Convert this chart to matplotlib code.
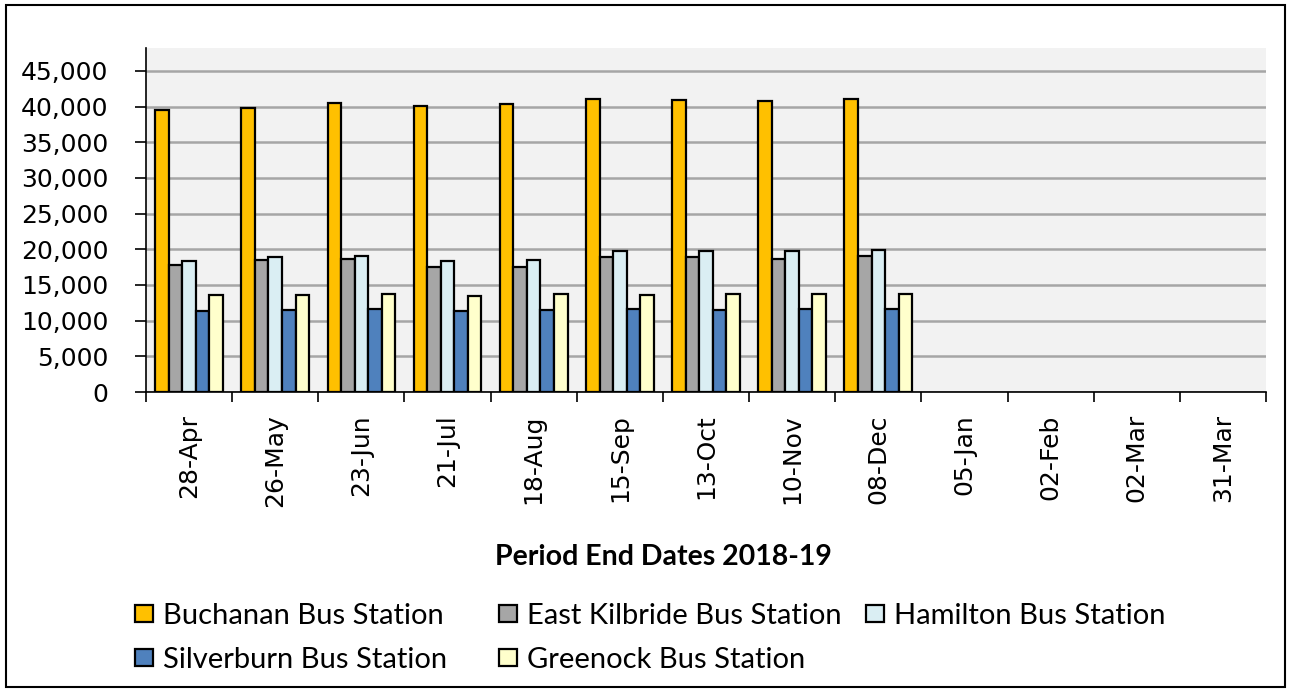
import numpy as np
import matplotlib
matplotlib.use("Agg")
import matplotlib.pyplot as plt
from matplotlib.patches import Rectangle

# Period end dates (4-weekly periods, 2018-19)
periods = ["28-Apr", "26-May", "23-Jun", "21-Jul", "18-Aug", "15-Sep", "13-Oct",
           "10-Nov", "08-Dec", "05-Jan", "02-Feb", "02-Mar", "31-Mar"]

# values; later periods not yet reported
buchanan = [39500, 39850, 40550, 40050, 40300, 41100, 40950, 40800, 41100]
east_kilbride = [17750, 18500, 18700, 17450, 17450, 18850, 18850, 18700, 19000]
hamilton = [18300, 18850, 19000, 18300, 18500, 19700, 19700, 19700, 19900]
silverburn = [11300, 11500, 11650, 11300, 11550, 11650, 11550, 11650, 11650]
greenock = [13600, 13600, 13800, 13450, 13750, 13600, 13750, 13750, 13750]

series = [
    ("Buchanan Bus Station", buchanan, "#FFC000"),
    ("East Kilbride Bus Station", east_kilbride, "#A6A6A6"),
    ("Hamilton Bus Station", hamilton, "#DAEEF3"),
    ("Silverburn Bus Station", silverburn, "#4F81BD"),
    ("Greenock Bus Station", greenock, "#FFFFCC"),
]

W, H = 1293, 690
fig = plt.figure(figsize=(W / 100, H / 100), dpi=100)
ax = fig.add_axes([146 / W, 1 - 392 / H, 1120 / W, 344 / H])
ax.set_facecolor("#F2F2F2")

width = 0.157
handles = {}
for k, (name, vals, col) in enumerate(series):
    x = np.arange(len(vals)) + (k - 2) * width
    b = ax.bar(x, vals, width=width, color=col, edgecolor="black", linewidth=1.6,
               label=name, zorder=3)
    handles[name] = b

ax.set_xlim(-0.5, len(periods) - 0.5)
ax.set_ylim(0, 48200)
ax.set_yticks(np.arange(0, 45001, 5000))
ax.set_yticklabels([f"{v:,}" for v in range(0, 45001, 5000)], fontsize=18,
                   family="DejaVu Sans")
ax.yaxis.grid(True, color="#A6A6A6", linewidth=1.8, zorder=1)
ax.tick_params(axis="y", length=8, width=1.2, direction="out", pad=19)

ax.set_xticks(np.arange(len(periods)))
ax.set_xticklabels(periods, rotation=90, fontsize=18, family="DejaVu Sans")
ax.tick_params(axis="x", which="major", length=0, pad=16)
ax.set_xticks(np.arange(len(periods) + 1) - 0.5, minor=True)
ax.tick_params(axis="x", which="minor", length=7, width=1.2, direction="out")

for s in ["top", "right"]:
    ax.spines[s].set_visible(False)
for s in ["left", "bottom"]:
    ax.spines[s].set_linewidth(1.2)
    ax.spines[s].set_zorder(4)

fig.text(663 / W, 1 - 557 / H, "Period End Dates 2018-19", ha="center", va="center",
         fontsize=20.5, fontweight="bold", family="Lato")

# legend laid out like the Excel one: three fixed columns, two rows
columns = [
    (135, ["Buchanan Bus Station", "Silverburn Bus Station"]),
    (499, ["East Kilbride Bus Station", "Greenock Bus Station"]),
    (866, ["Hamilton Bus Station"]),
]
for xl, names in columns:
    fig.legend([handles[n] for n in names], names, loc="upper left",
               bbox_to_anchor=(xl / W, 1 - 603 / H), frameon=False,
               prop={"family": "Lato", "size": 21}, handlelength=0.62, handleheight=0.52,
               handletextpad=0.35, labelspacing=0.6, borderpad=0, borderaxespad=0)

# outer chart border
fig.patches.append(Rectangle((6 / W, 3 / H), 1279 / W, 682 / H,
                             transform=fig.transFigure, fill=False, edgecolor="black",
                             linewidth=1.5))

fig.savefig("out.png", dpi=100)
